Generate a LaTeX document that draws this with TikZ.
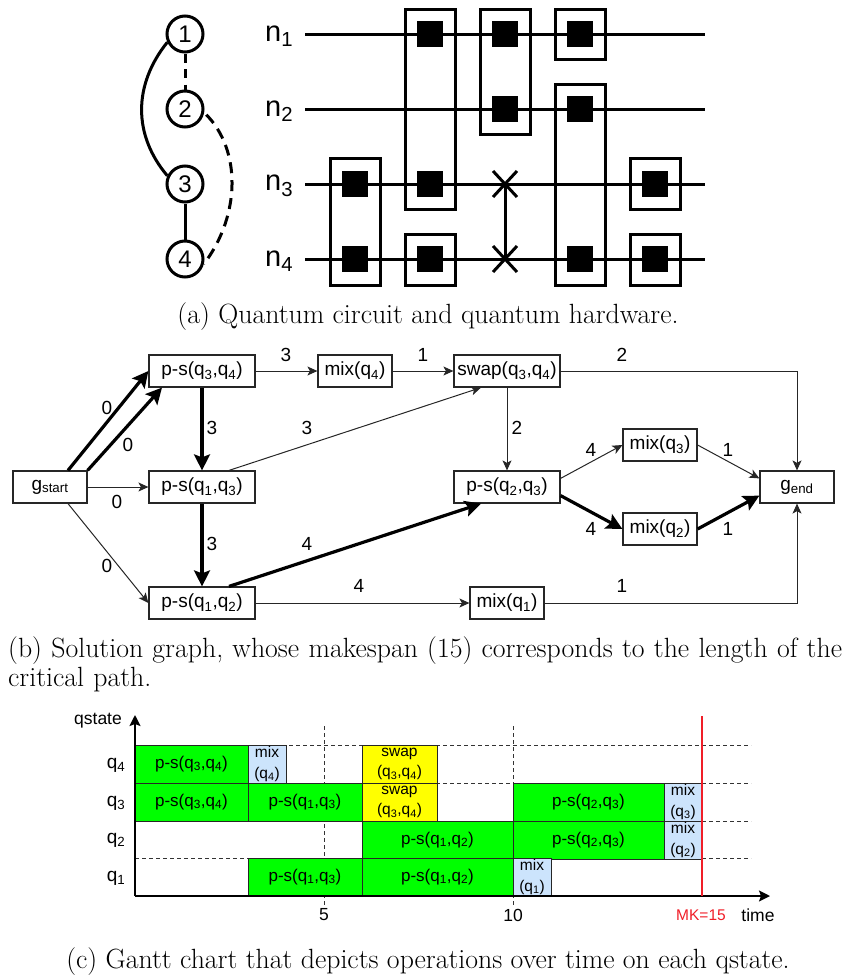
\documentclass[tikz,border=0pt]{standalone}
\usepackage{fontspec}
\setsansfont{Liberation Sans}
\usepackage{xcolor}
\usetikzlibrary{arrows.meta, calc}
\definecolor{opgreen}{RGB}{0, 255, 0}
\definecolor{opyellow}{RGB}{255, 255, 0}
\definecolor{opblue}{RGB}{204, 228, 252}
\definecolor{mkred}{RGB}{240, 30, 40}
\newcommand{\qq}[1]{q\textsubscript{#1}}
\newcommand{\sfsize}[1]{\sffamily\fontsize{#1}{#1}\selectfont}
\tikzset{
    qubit/.style={draw, circle, line width=3pt, minimum size=36pt, inner sep=0pt, font=\sfsize{24}},
    wirelabel/.style={font=\sfsize{29}, inner sep=0pt},
    gatebox/.style={line width=3pt},
    gatedot/.style={fill=black, minimum size=26pt, inner sep=0pt},
    opnode/.style={draw=black!85, line width=1.2pt, minimum height=32pt, inner sep=0pt, font=\sfsize{19}},
    thinedge/.style={draw=black!85, line width=1pt, -{Stealth[length=10pt, width=9pt, inset=2.5pt]}},
    critedge/.style={draw=black, line width=3.2pt, -{Stealth[length=16pt, width=16pt, inset=3pt]}},
    edgelabel/.style={font=\sfsize{19}, inner sep=0pt},
    ganttop/.style={draw=black!85, line width=1pt, inner sep=0pt, align=center, font=\sfsize{17}},
    griddash/.style={draw=black!80, line width=1pt, dash pattern=on 4pt off 3pt},
    axislabel/.style={font=\sfsize{17.5}, inner sep=0pt},
    caption/.style={font=\fontsize{27.8}{29.5}\selectfont, inner sep=0pt},
}

\begin{document}
\begin{tikzpicture}[x=1pt, y=-1pt]
    \useasboundingbox (0,0) rectangle (845,977);

    % Quantum hardware (left)
    \foreach \n/\y in {1/34, 2/109, 3/184, 4/259} {
        \node[qubit] (c\n) at (185,\y) {\n};
    }
    \draw[line width=3pt] (c1.205) .. controls (133,85) and (133,135) .. (c3.155);
    \draw[line width=3pt, dash pattern=on 9pt off 6.5pt] (c1.south) -- (c2.north);
    \draw[line width=3pt] (c3.south) -- (c4.north);
    \draw[line width=3pt, dash pattern=on 11pt off 7pt] ($(c2.-8)+(2,3)$) .. controls (241,150) and (241,215) .. (c4.-15);

    % Circuit wires
    \foreach \n/\y/\yl in {1/34/36, 2/109/111, 3/184/186, 4/259/261} {
        \node[wirelabel, anchor=west] (n\n) at (265,\yl) {n\textsubscript{\n}};
        \coordinate (wa\n) at (305,\y);
        \coordinate (wb\n) at (705,\y);
        \draw[line width=3pt] (wa\n) -- (wb\n);
    }

    % Gates
    \foreach \x/\y [count=\i] in {355/184, 355/259, 430/34, 430/184, 430/259, 505/34, 505/109,
                                  580/34, 580/109, 580/259, 655/184, 655/259} {
        \node[gatedot] (dot\i) at (\x,\y) {};
    }
    \foreach \x/\ya/\yb in {355/158/285, 430/9/209, 430/234/285, 505/9/134,
                            580/9/59, 580/84/285, 655/158/209, 655/234/285} {
        \draw[gatebox] (\x-25,\ya) rectangle (\x+25,\yb);
    }

    % Swap
    \coordinate (sw3) at (505,184);
    \coordinate (sw4) at (505,259);
    \draw[line width=3pt] (sw3) -- (sw4);
    \foreach \s in {sw3, sw4} {
        \draw[line width=3pt] ($(\s)+(-12,-13)$) -- ($(\s)+(12,13)$);
        \draw[line width=3pt] ($(\s)+(-12,13)$) -- ($(\s)+(12,-13)$);
    }

    \node[caption] (capa) at (428,317) {(a) Quantum circuit and quantum hardware.};

    % Solution graph nodes
    \node[opnode, minimum width=74pt] (gstart) at (50,487) {g\textsubscript{start}};
    \node[opnode, minimum width=106pt] (ps34) at (202,371) {p-s(\qq{3},\qq{4})};
    \node[opnode, minimum width=106pt] (ps13) at (202,487) {p-s(\qq{1},\qq{3})};
    \node[opnode, minimum width=106pt] (ps12) at (202,603) {p-s(\qq{1},\qq{2})};
    \node[opnode, minimum width=74pt] (mix4) at (355,371) {mix(\qq{4})};
    \node[opnode, minimum width=106pt] (swap34) at (507,371) {swap(\qq{3},\qq{4})};
    \node[opnode, minimum width=106pt] (ps23) at (507,487) {p-s(\qq{2},\qq{3})};
    \node[opnode, minimum width=74pt] (mix3) at (660,445) {mix(\qq{3})};
    \node[opnode, minimum width=74pt] (mix2) at (660,529) {mix(\qq{2})};
    \node[opnode, minimum width=74pt] (mix1) at (507,603) {mix(\qq{1})};
    \node[opnode, minimum width=74pt] (gend) at (797,487) {g\textsubscript{end}};

    % Solution graph edges
    \draw[critedge] ([xshift=18pt]gstart.north) -- (ps34.west);
    \draw[critedge] (gstart.north east) -- ([xshift=-40pt]ps34.south);
    \draw[thinedge] (gstart.east) -- (ps13.west);
    \draw[thinedge] ([xshift=18pt]gstart.south) -- (ps12.west);
    \draw[critedge] (ps34.south) -- (ps13.north);
    \draw[critedge] (ps13.south) -- (ps12.north);
    \draw[thinedge] (ps34.east) -- (mix4.west);
    \draw[thinedge] (mix4.east) -- (swap34.west);
    \draw[thinedge] ([xshift=27pt]ps13.north) -- ([xshift=-26pt]swap34.south);
    \draw[critedge] ([xshift=27pt]ps12.north) -- ([xshift=-26pt]ps23.south);
    \draw[thinedge] (ps12.east) -- (mix1.west);
    \draw[thinedge] (swap34.south) -- (ps23.north);
    \draw[thinedge] (swap34.east) -| (gend.north);
    \draw[thinedge] ([yshift=-8pt]ps23.north east) -- (mix3.west);
    \draw[critedge] ([yshift=8pt]ps23.south east) -- (mix2.west);
    \draw[thinedge] (mix3.east) -- ([yshift=-8pt]gend.north west);
    \draw[critedge] (mix2.east) -- ([yshift=8pt]gend.south west);
    \draw[thinedge] (mix1.east) -| (gend.south);

    % Edge labels
    \foreach \x/\y/\t [count=\i] in {107/408/0, 128/445/0, 117/502/0, 107/566/0,
                                     286/355/3, 423/355/1, 622/355/2,
                                     212/428/3, 307/428/3, 517/428/2,
                                     212/544/3, 307/544/4, 359/586/4, 622/586/1,
                                     591/450/4, 728/450/1, 591/529/4, 728/529/1} {
        \node[edgelabel] (lab\i) at (\x,\y) {\t};
    }

    \node[caption, anchor=north west, text width=837pt] (capb) at (8,636)
        {(b) Solution graph, whose makespan (15) corresponds to the length of the critical path.};

    % Gantt grid
    \foreach \y [count=\i] in {745, 783, 821, 858} {
        \coordinate (ga\i) at (135,\y);
        \coordinate (gb\i) at (751,\y);
        \draw[griddash] (ga\i) -- (gb\i);
    }
    \foreach \x [count=\i] in {324, 513} {
        \coordinate (ta\i) at (\x,726);
        \coordinate (tb\i) at (\x,906);
        \draw[griddash] (ta\i) -- (tb\i);
    }

    % Gantt operations
    \foreach \xa/\xb/\ya/\col/\txt [count=\i] in {
        135/248/745/opgreen/{p-s(\qq{3},\qq{4})},
        135/248/783/opgreen/{p-s(\qq{3},\qq{4})},
        248/362/783/opgreen/{p-s(\qq{1},\qq{3})},
        248/362/858/opgreen/{p-s(\qq{1},\qq{3})},
        362/513/821/opgreen/{p-s(\qq{1},\qq{2})},
        362/513/858/opgreen/{p-s(\qq{1},\qq{2})},
        513/664/783/opgreen/{p-s(\qq{2},\qq{3})},
        513/664/821/opgreen/{p-s(\qq{2},\qq{3})}} {
        \node[ganttop, fill=\col, minimum width=\xb pt-\xa pt, minimum height=38pt] (op\i)
            at ({(\xa+\xb)/2},\ya+19) {\txt};
    }
    \foreach \xa/\xb/\ya/\col/\txta/\txtb [count=\i] in {
        248/286/745/opblue/mix/(\qq{4}),
        362/437/745/opyellow/swap/{(\qq{3},\qq{4})},
        362/437/783/opyellow/swap/{(\qq{3},\qq{4})},
        664/702/783/opblue/mix/(\qq{3}),
        664/702/821/opblue/mix/(\qq{2}),
        513/551/858/opblue/mix/(\qq{1})} {
        \node[ganttop, fill=\col, minimum width=\xb pt-\xa pt, minimum height=38pt,
              font=\sfsize{15.5}] (sop\i)
            at ({(\xa+\xb)/2},\ya+19) {\txta\\[5pt]\txtb};
    }

    % Axes
    \coordinate (org) at (135,896);
    \coordinate (tend) at (770,896);
    \coordinate (qend) at (135,715);
    \draw[line width=1.8pt, -{Stealth[length=11pt, width=11pt, inset=2pt]}] (org) -- (tend);
    \draw[line width=1.8pt, -{Stealth[length=11pt, width=11pt, inset=2pt]}] (org) -- (qend);

    % Makespan
    \coordinate (mka) at (702,716);
    \coordinate (mkb) at (702,896);
    \draw[mkred, line width=1.5pt] (mka) -- (mkb);

    % Axis labels
    \node[axislabel] (qstate) at (98,721) {qstate};
    \foreach \n/\y in {4/765, 3/803, 2/840, 1/878} {
        \node[axislabel, font=\sfsize{19}] (row\n) at (116,\y) {\qq{\n}};
    }
    \node[axislabel] (tick5) at (324,915) {5};
    \node[axislabel] (tick10) at (513,915) {10};
    \node[axislabel, text=mkred, font=\sfsize{15.5}] (mk) at (701,915) {MK=15};
    \node[axislabel] (timelab) at (758,915) {time};

    \node[caption] (capc) at (428,962) {(c) Gantt chart that depicts operations over time on each qstate.};
\end{tikzpicture}
\end{document}
